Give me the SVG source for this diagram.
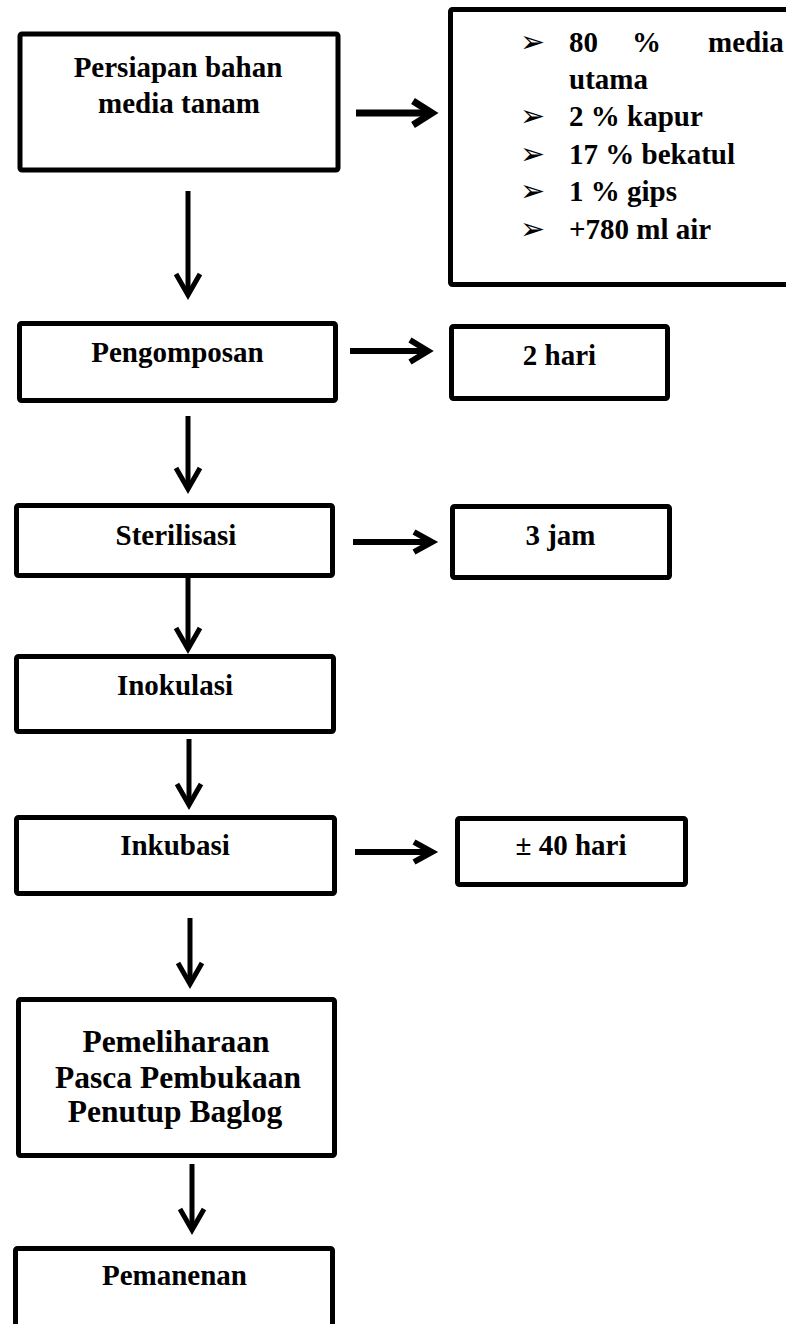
<svg xmlns="http://www.w3.org/2000/svg" width="786" height="1324" viewBox="0 0 786 1324">
<style>
.box{fill:#fff;stroke:#000;stroke-width:5;}
.t{font-family:"Liberation Serif","Times New Roman",serif;font-weight:bold;font-size:29px;fill:#000;}
.big{font-size:31.5px;}
.c{text-anchor:middle;}
.b{font-family:"DejaVu Sans",sans-serif;font-size:30px;fill:#000;}
.ln{fill:none;stroke:#000;stroke-linecap:butt;stroke-linejoin:miter;}
</style>
<rect width="786" height="1324" fill="#fff"/>
<g id="connectors">
  <g class="ln" stroke-width="7">
    <path d="M356 113 H431"/>
    <path d="M413 101 L432 113 L413 125"/>
  </g>
  <g class="ln" stroke-width="6">
    <path d="M350 351 H427"/>
    <path d="M410 340 L428 351 L410 362"/>
    <path d="M353 542 H431"/>
    <path d="M414 532 L432 542 L414 552"/>
    <path d="M355 852 H431"/>
    <path d="M414 842 L432 852 L414 862"/>
  </g>
  <g class="ln" stroke-width="5">
    <path d="M188 191 V295"/>
    <path d="M176 274 L188 295 L200 274"/>
    <path d="M188 416 V489"/>
    <path d="M176 468 L188 489 L200 468"/>
    <path d="M188 578 V649"/>
    <path d="M176 628 L188 649 L200 628"/>
    <path d="M189 739 V805"/>
    <path d="M177 784 L189 805 L201 784"/>
    <path d="M190 918 V984"/>
    <path d="M178 963 L190 984 L202 963"/>
    <path d="M192 1164 V1230"/>
    <path d="M180 1209 L192 1230 L204 1209"/>
  </g>
</g>
<g id="n-persiapan">
  <rect class="box" x="20" y="34" width="318" height="136" rx="2"/>
  <text class="t c" x="178" y="77">Persiapan bahan</text>
  <text class="t c" x="179" y="113">media tanam</text>
</g>
<g id="n-bahan">
  <rect class="box" x="450.5" y="9.5" width="400" height="275" rx="2"/>
  <text class="b" x="520" y="52">➢</text>
  <text class="t" x="569" y="52">80</text>
  <text class="t" x="632" y="52">%</text>
  <text class="t" x="708" y="52">media</text>
  <text class="t" x="569" y="89">utama</text>
  <text class="b" x="520" y="126">➢</text>
  <text class="t" x="569" y="126">2 % kapur</text>
  <text class="b" x="520" y="164">➢</text>
  <text class="t" x="569" y="164">17 % bekatul</text>
  <text class="b" x="520" y="201">➢</text>
  <text class="t" x="569" y="201">1 % gips</text>
  <text class="b" x="520" y="239">➢</text>
  <text class="t" x="569" y="239">+780 ml air</text>
</g>
<g id="n-pengomposan">
  <rect class="box" x="19.5" y="323.5" width="316" height="77" rx="2"/>
  <text class="t c" x="177.5" y="362">Pengomposan</text>
</g>
<g id="n-2hari">
  <rect class="box" x="451.5" y="326.5" width="216" height="72" rx="2"/>
  <text class="t c" x="559.5" y="365">2 hari</text>
</g>
<g id="n-sterilisasi">
  <rect class="box" x="16.5" y="505.5" width="316" height="70" rx="2"/>
  <text class="t c" x="176" y="545">Sterilisasi</text>
</g>
<g id="n-3jam">
  <rect class="box" x="452.5" y="506.5" width="217" height="71" rx="2"/>
  <text class="t c" x="560.5" y="545">3 jam</text>
</g>
<g id="n-inokulasi">
  <rect class="box" x="16.5" y="656.5" width="317" height="75" rx="2"/>
  <text class="t c" x="175" y="695">Inokulasi</text>
</g>
<g id="n-inkubasi">
  <rect class="box" x="16.5" y="817.5" width="318" height="76" rx="2"/>
  <text class="t c" x="175" y="855">Inkubasi</text>
</g>
<g id="n-40hari">
  <rect class="box" x="457.5" y="818.5" width="228" height="66" rx="2"/>
  <text class="t c" x="571" y="855">± 40 hari</text>
</g>
<g id="n-pemeliharaan">
  <rect class="box" x="18.5" y="999.5" width="316" height="156" rx="2"/>
  <text class="t big c" x="176" y="1052">Pemeliharaan</text>
  <text class="t big c" x="178" y="1088">Pasca Pembukaan</text>
  <text class="t big c" x="175" y="1122">Penutup Baglog</text>
</g>
<g id="n-pemanenan">
  <rect class="box" x="15.5" y="1248.5" width="317" height="78" rx="2"/>
  <text class="t c" x="174.5" y="1285">Pemanenan</text>
</g>
</svg>
